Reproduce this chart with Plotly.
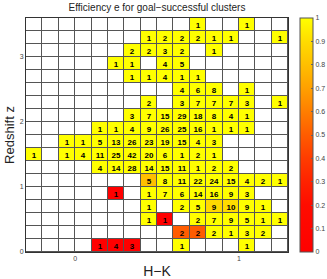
import plotly.graph_objects as go

N = None
# H-K bin centres (x) and redshift bin centres (y)
hk_bins = [-0.25, -0.15, -0.05, 0.05, 0.15, 0.25, 0.35, 0.45, 0.55, 0.65,
           0.75, 0.85, 0.95, 1.05, 1.15, 1.25]
z_bins = [0.1, 0.3, 0.5, 0.7, 0.9, 1.1, 1.3, 1.5, 1.7, 1.9, 2.1, 2.3, 2.5,
          2.7, 2.9, 3.1, 3.3, 3.5]

# number of clusters per bin (rows = redshift bins, bottom to top)
counts = [
    [0, 0, 0, 0, 1, 4, 3, 0, 0, 1, 0, 0, 0, 1, 0, 0],
    [0, 0, 0, 0, 0, 0, 0, 0, 0, 2, 2, 2, 1, 3, 2, 0],
    [0, 0, 0, 0, 0, 0, 0, 1, 1, 0, 2, 7, 9, 5, 1, 1],
    [0, 0, 0, 0, 0, 0, 0, 1, 0, 2, 5, 9, 10, 9, 1, 0],
    [0, 0, 0, 0, 0, 1, 0, 1, 7, 6, 14, 16, 9, 3, 0, 0],
    [0, 0, 0, 0, 0, 0, 0, 5, 8, 11, 22, 24, 15, 4, 2, 1],
    [0, 0, 0, 0, 4, 14, 28, 14, 15, 11, 1, 2, 2, 0, 0, 0],
    [1, 0, 1, 4, 11, 25, 42, 20, 6, 1, 2, 1, 0, 0, 0, 0],
    [0, 0, 1, 1, 5, 13, 26, 23, 19, 15, 4, 3, 0, 0, 0, 0],
    [0, 0, 0, 0, 1, 1, 4, 9, 26, 25, 16, 1, 1, 1, 0, 0],
    [0, 0, 0, 0, 0, 0, 3, 7, 15, 29, 18, 8, 4, 1, 0, 0],
    [0, 0, 0, 0, 0, 0, 0, 2, 0, 3, 7, 7, 7, 3, 0, 1],
    [0, 0, 0, 0, 0, 0, 0, 0, 0, 4, 6, 8, 0, 1, 0, 0],
    [0, 0, 0, 0, 0, 0, 1, 1, 4, 1, 1, 0, 0, 0, 0, 0],
    [0, 0, 0, 0, 0, 1, 1, 0, 4, 5, 0, 0, 0, 0, 0, 0],
    [0, 0, 0, 0, 0, 0, 2, 2, 3, 2, 0, 1, 0, 0, 0, 0],
    [0, 0, 0, 0, 0, 0, 0, 1, 2, 2, 2, 1, 1, 0, 0, 1],
    [0, 0, 0, 0, 0, 0, 0, 0, 0, 0, 1, 0, 0, 1, 0, 0],
]

# efficiency per bin
efficiency = [
    [N, N, N, N, 0, 0, 0, N, N, 1, N, N, N, 1, N, N],
    [N, N, N, N, N, N, N, N, N, .5, .5, 1, 1, 1, 1, N],
    [N, N, N, N, N, N, N, 1, 0, N, 1, 1, 1, 1, 1, 1],
    [N, N, N, N, N, N, N, 1, N, 1, 1, .89, .9, 1, 1, N],
    [N, N, N, N, N, 0, N, 1, 1, 1, 1, 1, 1, 1, N, N],
    [N, N, N, N, N, N, N, .8, 1, 1, 1, 1, 1, 1, 1, 1],
    [N, N, N, N, 1, 1, 1, 1, 1, 1, 1, 1, 1, N, N, N],
    [1, N, 1, 1, 1, 1, 1, 1, 1, 1, 1, 1, N, N, N, N],
    [N, N, 1, 1, 1, 1, 1, 1, 1, 1, 1, 1, N, N, N, N],
    [N, N, N, N, 1, 1, 1, 1, 1, 1, 1, 1, 1, 1, N, N],
    [N, N, N, N, N, N, 1, 1, 1, 1, 1, 1, 1, 1, N, N],
    [N, N, N, N, N, N, N, 1, N, 1, 1, 1, 1, 1, N, 1],
    [N, N, N, N, N, N, N, N, N, 1, 1, 1, N, 1, N, N],
    [N, N, N, N, N, N, 1, 1, 1, 1, 1, N, N, N, N, N],
    [N, N, N, N, N, 1, 1, N, 1, 1, N, N, N, N, N, N],
    [N, N, N, N, N, N, 1, 1, 1, 1, N, 1, N, N, N, N],
    [N, N, N, N, N, N, N, 1, 1, 1, 1, 1, 1, N, N, 1],
    [N, N, N, N, N, N, N, N, N, N, 1, N, N, 1, N, N],
]

cbar_ticks = [0, 0.1, 0.2, 0.3, 0.4, 0.5, 0.6, 0.7, 0.8, 0.9, 1]
cbar_labels = ["0", "0.1", "0.2", "0.3", "0.4", "0.5", "0.6", "0.7", "0.8", "0.9", "1"]

labels = [[(str(c) if c > 0 else "") for c in row] for row in counts]
blank = [[0 for _ in row] for row in counts]

colorscale = [
    [0.0, "#ff0000"], [0.2, "#ff0c00"], [0.3, "#ff2200"], [0.4, "#ff3c00"],
    [0.5, "#ff5c00"], [0.6, "#ff7e00"], [0.7, "#ffa000"], [0.8, "#ffbf00"],
    [0.9, "#ffdc00"], [1.0, "#ffff00"],
]

FONT = "Liberation Sans, Arial, sans-serif"

fig = go.Figure()
fig.add_trace(go.Heatmap(
    x=hk_bins, y=z_bins, z=blank,
    colorscale=[[0, "white"], [1, "white"]], showscale=False,
    xgap=1, ygap=1, hoverinfo="skip",
))
fig.add_trace(go.Heatmap(
    x=hk_bins, y=z_bins, z=efficiency, text=labels,
    texttemplate="<b>%{text}</b>",
    textfont=dict(family=FONT, size=8, color="black"),
    colorscale=colorscale, zmin=0, zmax=1,
    xgap=1, ygap=1,
    colorbar=dict(
        x=1.046, xanchor="left", xpad=0, y=0.5, yanchor="middle",
        len=1, lenmode="fraction", ypad=0,
        thickness=13, thicknessmode="pixels",
        outlinewidth=1, outlinecolor="#555",
        tickvals=cbar_ticks, ticktext=cbar_labels,
        ticks="inside", ticklen=2, tickcolor="#666",
        tickfont=dict(family=FONT, size=7, color="#444"),
    ),
))

fig.update_layout(
    width=327, height=279,
    margin=dict(l=26, r=39, t=18, b=27, autoexpand=False),
    paper_bgcolor="white", plot_bgcolor="#555555",
    font=dict(family=FONT, color="#222"),
    title=dict(text="Efficiency e for goal\u2212successful clusters",
               x=0.5, xref="paper", xanchor="center",
               y=0.985, yref="container", yanchor="top",
               font=dict(size=10, color="#222")),
)
fig.update_xaxes(
    range=[-0.3, 1.3], tickvals=[0, 1], ticktext=["0", "1"],
    ticks="", showgrid=False, zeroline=False, automargin=False,
    showline=True, linecolor="#333", linewidth=1, mirror=True,
    tickfont=dict(size=7, color="#444"),
    title=dict(text="H\u2212K", font=dict(size=14, color="#222"), standoff=4),
)
fig.update_yaxes(
    range=[0, 3.6], tickvals=[0, 1, 2, 3], ticktext=["0", "1", "2", "3"],
    ticks="", showgrid=False, zeroline=False, automargin=False,
    showline=True, linecolor="#333", linewidth=1, mirror=True,
    tickfont=dict(size=7, color="#444"),
    title=dict(text="Redshift z", font=dict(size=13, color="#222"), standoff=2),
)

fig.write_html("out.html", config={"displayModeBar": False},
               post_script="document.body.style.margin='0';")
